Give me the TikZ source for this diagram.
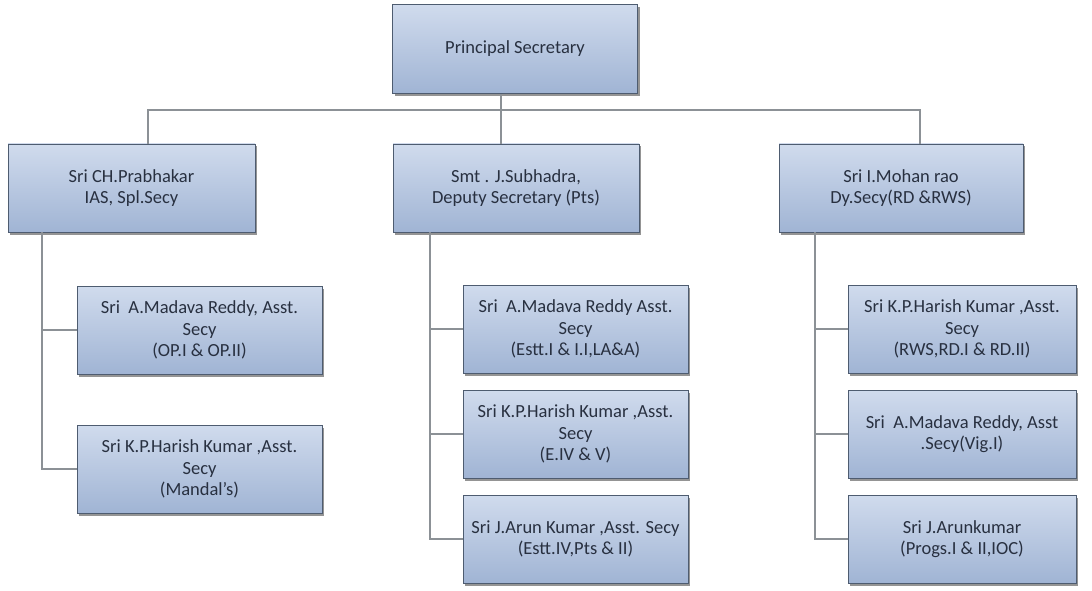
\documentclass[tikz,border=0pt]{standalone}
\usepackage{fontspec}
\setmainfont{Carlito}
\usetikzlibrary{shadows,calc}
\definecolor{boxtop}{RGB}{208,219,237}
\definecolor{boxbot}{RGB}{160,180,212}
\definecolor{boxline}{RGB}{78,92,112}
\definecolor{boxtext}{RGB}{40,48,64}
\definecolor{wire}{RGB}{140,145,150}
\tikzset{
  post/.style={draw=boxline, line width=0.9pt, top color=boxtop, bottom color=boxbot,
    drop shadow={shadow xshift=2pt, shadow yshift=-2.5pt, fill=black!70, opacity=0.6},
    text=boxtext, align=center, inner sep=2pt,
    font=\fontsize{18.5}{21.5}\selectfont},
  conn/.style={draw=wire, line width=2.6pt}
}
\begin{document}
\begin{tikzpicture}[x=1pt,y=-1pt]
\useasboundingbox (0,0) rectangle (1092,591);

% head of the department
\node[post, minimum width=245pt, minimum height=89pt] (top) at (515,49) {Principal Secretary};

% second level
\node[post, minimum width=247pt, minimum height=88pt] (l2a) at (131.5,188) {Sri CH.Prabhakar\\IAS, Spl.Secy};
\node[post, minimum width=246pt, minimum height=88pt] (l2b) at (516,188) {Smt . J.Subhadra,\\Deputy Secretary (Pts)};
\node[post, minimum width=244pt, minimum height=88pt] (l2c) at (901,188) {Sri I.Mohan rao\\Dy.Secy(RD \&RWS)};

% sections under the Special Secretary
\node[post, minimum width=245pt, minimum height=88pt] (la1) at (199.5,330) {Sri\ \ A.Madava Reddy, Asst.\\Secy\\(OP.I \& OP.II)};
\node[post, minimum width=245pt, minimum height=88pt] (la2) at (199.5,469) {Sri K.P.Harish Kumar ,Asst.\\Secy\\(Mandal's)};

% sections under the Deputy Secretary (Pts)
\node[post, minimum width=225pt, minimum height=88pt] (mb1) at (575.5,329) {Sri\ \ A.Madava Reddy Asst.\\Secy\\(Estt.I \& I.I,LA\&A)};
\node[post, minimum width=225pt, minimum height=88pt] (mb2) at (575.5,434) {Sri K.P.Harish Kumar ,Asst.\\Secy\\(E.IV \& V)};
\node[post, minimum width=225pt, minimum height=88pt] (mb3) at (575.5,539) {Sri J.Arun Kumar ,Asst. Secy\\(Estt.IV,Pts \& II)};

% sections under the Dy.Secy (RD & RWS)
\node[post, minimum width=228pt, minimum height=88pt] (rc1) at (962,329) {Sri K.P.Harish Kumar ,Asst.\\Secy\\(RWS,RD.I \& RD.II)};
\node[post, minimum width=228pt, minimum height=88pt] (rc2) at (962,434) {Sri\ \ A.Madava Reddy, Asst\\.Secy(Vig.I)};
\node[post, minimum width=228pt, minimum height=88pt] (rc3) at (962,539) {Sri J.Arunkumar\\(Progs.I \& II,IOC)};

% bus lines
\coordinate (busL) at (148,110);
\coordinate (busM) at (501,110);
\coordinate (busR) at (920,110);
\coordinate (colA) at (42,0);
\coordinate (colB) at (430,0);
\coordinate (colC) at (815,0);

\draw[conn] (top.south -| busM) -- (busM);
\draw[conn] (busL |- l2a.north) -- (busL) -- (busR) -- (busR |- l2c.north);
\draw[conn] (busM) -- (busM |- l2b.north);

\draw[conn] (l2a.south -| colA) |- (la2.west);
\draw[conn] (colA |- la1.west) -- (la1.west);

\draw[conn] (l2b.south -| colB) |- (mb3.west);
\draw[conn] (colB |- mb1.west) -- (mb1.west);
\draw[conn] (colB |- mb2.west) -- (mb2.west);

\draw[conn] (l2c.south -| colC) |- (rc3.west);
\draw[conn] (colC |- rc1.west) -- (rc1.west);
\draw[conn] (colC |- rc2.west) -- (rc2.west);
\end{tikzpicture}
\end{document}
